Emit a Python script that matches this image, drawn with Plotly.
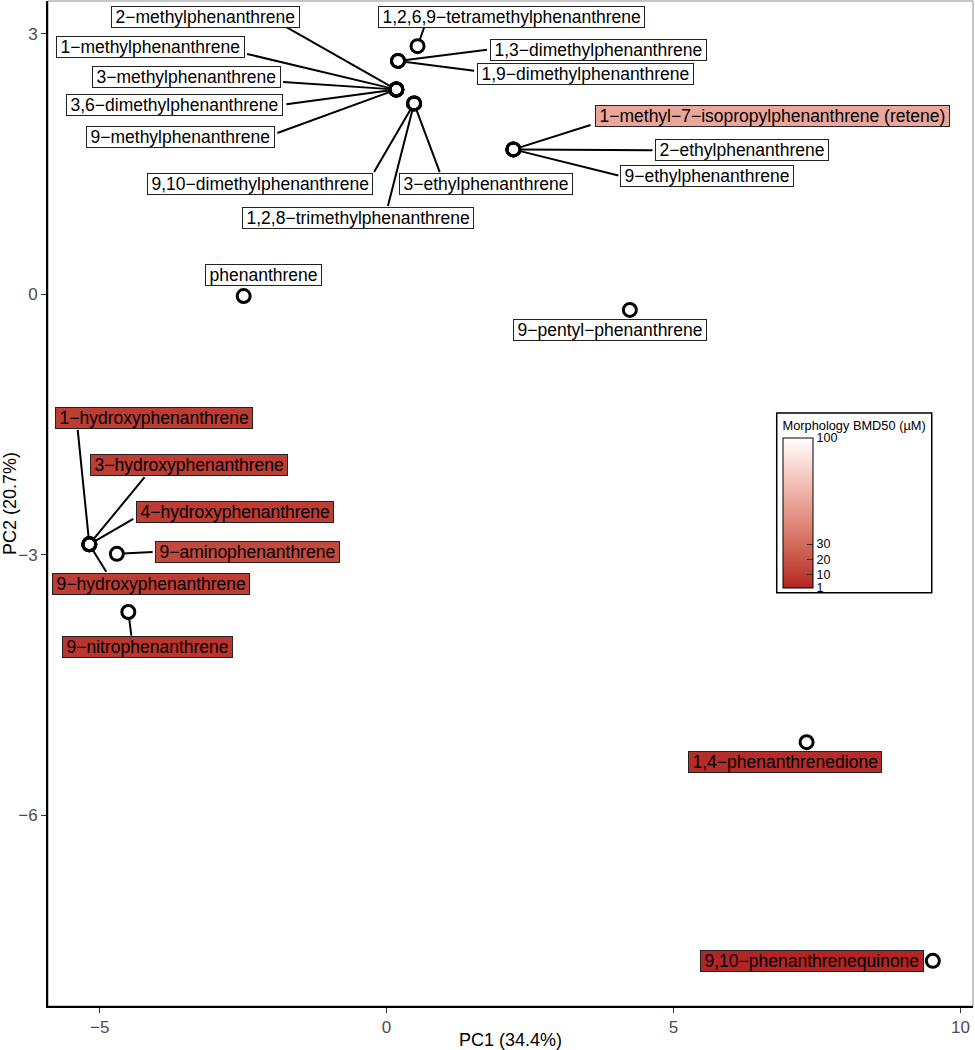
import plotly.graph_objects as go
from plotly.colors import sample_colorscale

# ---------------- data ----------------
compounds = [
    "phenanthrene",
    "1-methylphenanthrene",
    "2-methylphenanthrene",
    "3-methylphenanthrene",
    "9-methylphenanthrene",
    "3,6-dimethylphenanthrene",
    "1,3-dimethylphenanthrene",
    "1,9-dimethylphenanthrene",
    "9,10-dimethylphenanthrene",
    "1,2,8-trimethylphenanthrene",
    "3-ethylphenanthrene",
    "1,2,6,9-tetramethylphenanthrene",
    "1-methyl-7-isopropylphenanthrene (retene)",
    "2-ethylphenanthrene",
    "9-ethylphenanthrene",
    "9-pentyl-phenanthrene",
    "1-hydroxyphenanthrene",
    "3-hydroxyphenanthrene",
    "4-hydroxyphenanthrene",
    "9-hydroxyphenanthrene",
    "9-aminophenanthrene",
    "9-nitrophenanthrene",
    "1,4-phenanthrenedione",
    "9,10-phenanthrenequinone",
]
pc1 = [-2.49, 0.17, 0.17, 0.17, 0.17, 0.17, 0.20, 0.20, 0.48, 0.48, 0.48, 0.54,
       2.21, 2.21, 2.21, 4.24, -5.18, -5.18, -5.18, -5.18, -4.70, -4.50, 7.32, 9.52]
pc2 = [-0.02, 2.36, 2.36, 2.36, 2.36, 2.36, 2.69, 2.69, 2.20, 2.20, 2.20, 2.86,
       1.67, 1.67, 1.67, -0.18, -2.88, -2.88, -2.88, -2.88, -2.99, -3.66, -5.16, -7.68]
bmd50 = [100, 100, 100, 100, 100, 100, 100, 100, 100, 100, 100, 100,
         58, 100, 100, 100, 10, 10, 10, 10, 15, 7, 4, 2]

x_title = "PC1 (34.4%)"
y_title = "PC2 (20.7%)"
x_ticks = [-5, 0, 5, 10]
y_ticks = [-6, -3, 0, 3]
cbar_title = "Morphology BMD50 (µM)"
cbar_ticks = [1, 10, 20, 30, 100]

# ---------------- label layout (repelled label centres and where each
# connector leaves its label box, in data units) ----------------
label_pos = {
    "phenanthrene": (-2.14, 0.22),
    "1-methylphenanthrene": (-4.12, 2.85),
    "2-methylphenanthrene": (-3.15, 3.20),
    "3-methylphenanthrene": (-3.49, 2.505),
    "9-methylphenanthrene": (-3.59, 1.818),
    "3,6-dimethylphenanthrene": (-3.69, 2.182),
    "1,3-dimethylphenanthrene": (3.69, 2.82),
    "1,9-dimethylphenanthrene": (3.46, 2.539),
    "9,10-dimethylphenanthrene": (-2.20, 1.271),
    "1,2,8-trimethylphenanthrene": (-0.495, 0.88),
    "3-ethylphenanthrene": (1.74, 1.271),
    "1,2,6,9-tetramethylphenanthrene": (2.17, 3.20),
    "1-methyl-7-isopropylphenanthrene (retene)": (6.72, 2.058),
    "2-ethylphenanthrene": (6.19, 1.664),
    "9-ethylphenanthrene": (5.59, 1.369),
    "9-pentyl-phenanthrene": (3.90, -0.412),
    "1-hydroxyphenanthrene": (-4.055, -1.429),
    "3-hydroxyphenanthrene": (-3.445, -1.971),
    "4-hydroxyphenanthrene": (-2.644, -2.512),
    "9-hydroxyphenanthrene": (-4.113, -3.334),
    "9-aminophenanthrene": (-2.417, -2.969),
    "9-nitrophenanthrene": (-4.169, -4.069),
    "1,4-phenanthrenedione": (6.94, -5.393),
    "9,10-phenanthrenequinone": (7.41, -7.682),
}
segment_from = {
    "1-methylphenanthrene": (-2.457, 2.774),
    "2-methylphenanthrene": (-1.772, 3.089),
    "3-methylphenanthrene": (-1.830, 2.447),
    "9-methylphenanthrene": (-1.929, 1.853),
    "3,6-dimethylphenanthrene": (-1.772, 2.187),
    "1,3-dimethylphenanthrene": (1.776, 2.820),
    "1,9-dimethylphenanthrene": (1.551, 2.574),
    "9,10-dimethylphenanthrene": (-0.233, 1.392),
    "1,2,8-trimethylphenanthrene": (0.017, 1.001),
    "3-ethylphenanthrene": (0.936, 1.392),
    "1,2,6,9-tetramethylphenanthrene": (0.662, 3.089),
    "1-methyl-7-isopropylphenanthrene (retene)": (3.581, 1.957),
    "2-ethylphenanthrene": (4.660, 1.661),
    "9-ethylphenanthrene": (4.066, 1.365),
    "1-hydroxyphenanthrene": (-5.385, -1.544),
    "3-hydroxyphenanthrene": (-4.195, -2.090),
    "4-hydroxyphenanthrene": (-4.387, -2.577),
    "9-hydroxyphenanthrene": (-4.869, -3.214),
    "9-aminophenanthrene": (-4.050, -2.969),
    "9-nitrophenanthrene": (-4.444, -3.951),
}

# ---------------- colour scale (Lab interpolation firebrick -> white) ----------------
def _lin(c):
    c = c / 255.0
    return c / 12.92 if c <= 0.04045 else ((c + 0.055) / 1.055) ** 2.4

def _gam(c):
    c = max(0.0, min(1.0, c))
    v = 12.92 * c if c <= 0.0031308 else 1.055 * c ** (1 / 2.4) - 0.055
    return int(round(v * 255))

WX, WY, WZ = 0.95047, 1.0, 1.08883

def _f(t):
    return t ** (1 / 3) if t > 216 / 24389 else (24389 / 27 * t + 16) / 116

def _finv(t):
    return t ** 3 if t ** 3 > 216 / 24389 else (116 * t - 16) / (24389 / 27)

def rgb2lab(rgb):
    r, g, b = (_lin(v) for v in rgb)
    X = 0.4124 * r + 0.3576 * g + 0.1805 * b
    Y = 0.2126 * r + 0.7152 * g + 0.0722 * b
    Z = 0.0193 * r + 0.1192 * g + 0.9505 * b
    fx, fy, fz = _f(X / WX), _f(Y / WY), _f(Z / WZ)
    return 116 * fy - 16, 500 * (fx - fy), 200 * (fy - fz)

def lab2rgb(lab):
    L, a, b = lab
    fy = (L + 16) / 116
    fx = fy + a / 500
    fz = fy - b / 200
    X, Y, Z = WX * _finv(fx), WY * _finv(fy), WZ * _finv(fz)
    r = 3.2406 * X - 1.5372 * Y - 0.4986 * Z
    g = -0.9689 * X + 1.8758 * Y + 0.0415 * Z
    bb = 0.0557 * X - 0.2040 * Y + 1.0570 * Z
    return _gam(r), _gam(g), _gam(bb)

low = rgb2lab((178, 34, 34))
high = rgb2lab((255, 255, 255))
N = 40
colorscale = []
for i in range(N + 1):
    t = i / N
    lab = tuple(low[k] + (high[k] - low[k]) * t for k in range(3))
    r, g, b = lab2rgb(lab)
    colorscale.append([t, f"rgb({r},{g},{b})"])

cmin, cmax = 1, 100

def fill_for(v):
    return sample_colorscale(colorscale, [(v - cmin) / (cmax - cmin)])[0]

# ---------------- figure ----------------
FONT = "Liberation Sans, Arial, Helvetica, sans-serif"
fig = go.Figure()

fig.add_trace(go.Scatter(
    x=pc1, y=pc2, mode="markers",
    marker=dict(symbol="circle-open", size=13, color="black",
                line=dict(width=3, color="black")),
    showlegend=False, hoverinfo="text", text=compounds,
))

# dummy trace carrying the colour bar
fig.add_trace(go.Scatter(
    x=[None], y=[None], mode="markers", showlegend=False, hoverinfo="skip",
    marker=dict(color=[cmin], colorscale=colorscale, cmin=cmin, cmax=cmax,
                showscale=True,
                colorbar=dict(
                    x=0.7946, xanchor="left", y=0.5005, yanchor="middle",
                    len=0.1692, lenmode="fraction", thickness=30,
                    thicknessmode="pixels", xpad=0, ypad=0,
                    outlinewidth=1, outlinecolor="black",
                    tickvals=cbar_ticks, ticktext=[str(v) for v in cbar_ticks],
                    ticks="inside", ticklen=6, tickcolor="#333333",
                    tickfont=dict(size=12.5, color="black", family=FONT),
                    title=dict(text=cbar_title, side="top",
                               font=dict(size=12.8, color="black", family=FONT)),
                )),
))

segments = []
labels = []
for name, x, y, v in zip(compounds, pc1, pc2, bmd50):
    lx, ly = label_pos[name]
    if name in segment_from:
        sx, sy = segment_from[name]
        segments.append(dict(
            x=x, y=y, ax=sx, ay=sy, xref="x", yref="y", axref="x", ayref="y",
            text="", showarrow=True, arrowhead=0, arrowwidth=2,
            arrowcolor="black", standoff=6, startstandoff=0,
        ))
    labels.append(dict(
        x=lx, y=ly, xref="x", yref="y", showarrow=False,
        text="\u2009" + name.replace("-", "\u2212") + "\u2009",
        bgcolor=fill_for(v), bordercolor="#222222",
        borderwidth=1, borderpad=0, height=20,
        font=dict(size=17.5, color="black", family=FONT),
    ))

fig.update_layout(
    width=975, height=1050,
    margin=dict(l=48, r=2, t=1, b=44, autoexpand=False),
    paper_bgcolor="white", plot_bgcolor="white",
    font=dict(family=FONT, color="black"),
    annotations=segments + labels,
    shapes=[dict(type="rect", xref="paper", yref="paper", x0=0, x1=1, y0=0, y1=1,
                 line=dict(color="#8c8c8c", width=1), layer="below"),
            dict(type="rect", xref="paper", yref="paper",
                 x0=0.7878, x1=0.9554, y0=0.4112, y1=0.590,
                 line=dict(color="black", width=1.5))],
)
fig.update_xaxes(
    range=[-5.90, 10.22], tickvals=x_ticks, showgrid=False, zeroline=False,
    showline=True, linecolor="black", linewidth=2, ticks="outside", ticklen=5,
    tickcolor="#333333", tickfont=dict(size=17, color="#4d4d4d"),
    title=dict(text=x_title, font=dict(size=18, color="black"), standoff=5),
)
fig.update_yaxes(
    range=[-8.20, 3.38], tickvals=y_ticks, showgrid=False, zeroline=False,
    showline=True, linecolor="black", linewidth=2, ticks="outside", ticklen=5,
    tickcolor="#333333", tickfont=dict(size=17, color="#4d4d4d"),
    title=dict(text=y_title, font=dict(size=18, color="black"), standoff=6),
)

fig.write_html(
    "out.html",
    config={"displayModeBar": False},
    post_script="document.body.style.margin='0';document.body.style.overflow='hidden';",
)
